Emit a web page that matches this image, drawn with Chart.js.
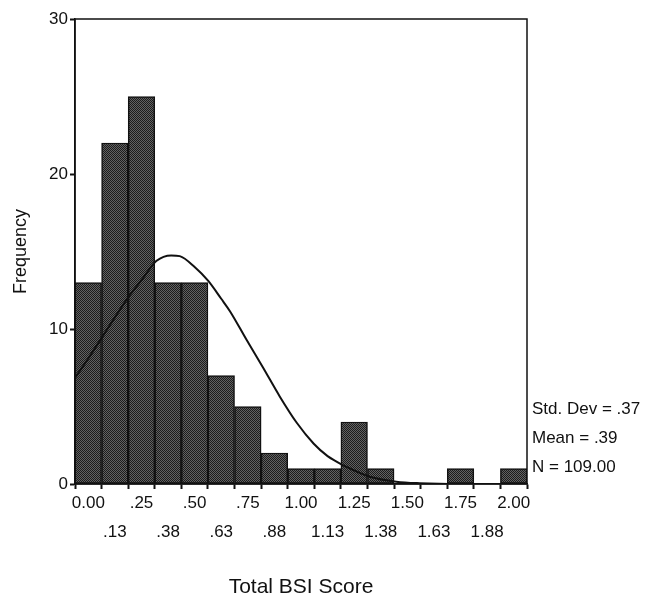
<!DOCTYPE html>
<html>
<head>
<meta charset="utf-8">
<script src="https://cdn.jsdelivr.net/npm/chart.js@4/dist/chart.umd.min.js"></script>
<style>
  html, body { margin: 0; padding: 0; background: #fff; }
  #wrap { width: 646px; height: 600px; position: relative; }
</style>
</head>
<body>
<div id="wrap"><canvas id="c"></canvas></div>
<script>
// histogram bins (bin centres) and counts
const binLabels = ['0.00', '.13', '.25', '.38', '.50', '.63', '.75', '.88', '1.00',
                   '1.13', '1.25', '1.38', '1.50', '1.63', '1.75', '1.88', '2.00'];
const counts = [13, 22, 25, 13, 13, 7, 5, 2, 1, 1, 4, 1, 0, 0, 1, 0, 1];

// normal curve
const curveX = [-0.0625, 0.0, 0.071, 0.125, 0.196, 0.25, 0.321, 0.39, 0.43, 0.5, 0.564,
                0.625, 0.666, 0.744, 0.822, 0.9, 0.98, 1.06, 1.125, 1.167, 1.214, 1.323,
                1.448, 1.558, 1.75, 2.0625];
const curveY = [6.85, 8.1, 9.6, 10.75, 12.2, 13.15, 14.4, 14.75, 14.7, 14.0, 13.1,
                11.95, 11.15, 9.3, 7.5, 5.65, 3.95, 2.6, 1.8, 1.45, 1.1, 0.47,
                0.15, 0.05, 0.0, 0.0];

const yTicks = [0, 10, 20, 30];
const stats = ['Std. Dev = .37', 'Mean = .39', 'N = 109.00'];

const FONT = "'Liberation Sans', Arial, Helvetica, sans-serif";
const INK = '#111';

// stippled grey fill like the scanned bars
function stipple() {
    const p = document.createElement('canvas');
    p.width = 2; p.height = 2;
    const g = p.getContext('2d');
    g.fillStyle = '#626262';
    g.fillRect(0, 0, 2, 2);
    g.fillStyle = '#1c1c1c';
    g.fillRect(0, 0, 1, 1);
    g.fillRect(1, 1, 1, 1);
    return g.createPattern(p, 'repeat');
}

const frameAndStats = {
    id: 'frameAndStats',
    afterDatasetsDraw(chart) {
        const { ctx, chartArea: a } = chart;
        ctx.save();
        ctx.strokeStyle = INK;
        ctx.lineWidth = 1.5;
        ctx.strokeRect(a.left, a.top, a.right - a.left, a.bottom - a.top);
        ctx.fillStyle = INK;
        ctx.font = '17px ' + FONT;
        ctx.textAlign = 'left';
        ctx.textBaseline = 'middle';
        stats.forEach((s, i) => ctx.fillText(s, a.right + 5, 409 + i * 29));
        ctx.restore();
    }
};

const ctx = document.getElementById('c').getContext('2d');
const chart = new Chart(ctx, {
    data: {
        labels: binLabels,
        datasets: [
            {
                type: 'line',
                xAxisID: 'xc',
                data: curveX.map((x, i) => ({ x: x, y: curveY[i] })),
                borderColor: INK,
                borderWidth: 2,
                pointRadius: 0,
                fill: false,
                cubicInterpolationMode: 'monotone',
                order: 0,
            },
            {
                type: 'bar',
                xAxisID: 'x',
                data: counts,
                backgroundColor: stipple(),
                borderColor: INK,
                borderWidth: 1.5,
                borderSkipped: false,
                grouped: false, // one full-width bar per bin
                barPercentage: 1,
                categoryPercentage: 1,
                order: 1,
            },
        ],
    },
    options: {
        responsive: true,
        maintainAspectRatio: false,
        animation: false,
        layout: {
            padding: { left: 0, top: 19, right: 119, bottom: 0 },
        },
        plugins: {
            legend: { display: false },
            tooltip: { enabled: false },
        },
        scales: {
            x: {
                type: 'category',
                offset: true,
                afterFit: (s) => { s.height = 116; },
                grid: {
                    display: true,
                    drawOnChartArea: false,
                    drawTicks: true,
                    tickLength: 5,
                    tickWidth: 2,
                    tickColor: INK,
                },
                border: { display: true, color: INK, width: 1.5 },
                ticks: {
                    autoSkip: false,
                    maxRotation: 0,
                    padding: 0,
                    color: INK,
                    font: { family: FONT, size: 17, lineHeight: 1.7 },
                    // alternate labels on two rows
                    callback: function (value, index) {
                        const label = this.getLabelForValue(value);
                        return index % 2 === 0 ? [label, ''] : ['', label];
                    },
                },
                title: {
                    display: true,
                    text: 'Total BSI Score',
                    color: INK,
                    font: { family: FONT, size: 21 },
                    padding: { top: 0, bottom: 0 },
                },
            },
            xc: {
                type: 'linear',
                display: false,
                min: -0.0625,
                max: 2.0625,
            },
            y: {
                min: 0,
                max: 30,
                afterFit: (s) => { s.width = 75; },
                afterBuildTicks: (s) => { s.ticks = yTicks.map(v => ({ value: v })); },
                grid: {
                    display: true,
                    drawOnChartArea: false,
                    drawTicks: true,
                    tickLength: 5,
                    tickWidth: 2,
                    tickColor: INK,
                },
                border: { display: true, color: INK, width: 1.5 },
                ticks: {
                    padding: 2,
                    color: INK,
                    font: { family: FONT, size: 17 },
                },
                title: {
                    display: true,
                    text: 'Frequency',
                    color: INK,
                    font: { family: FONT, size: 18 },
                    padding: { top: 10, bottom: 0 },
                },
            },
        },
    },
    plugins: [frameAndStats],
});
</script>
</body>
</html>
